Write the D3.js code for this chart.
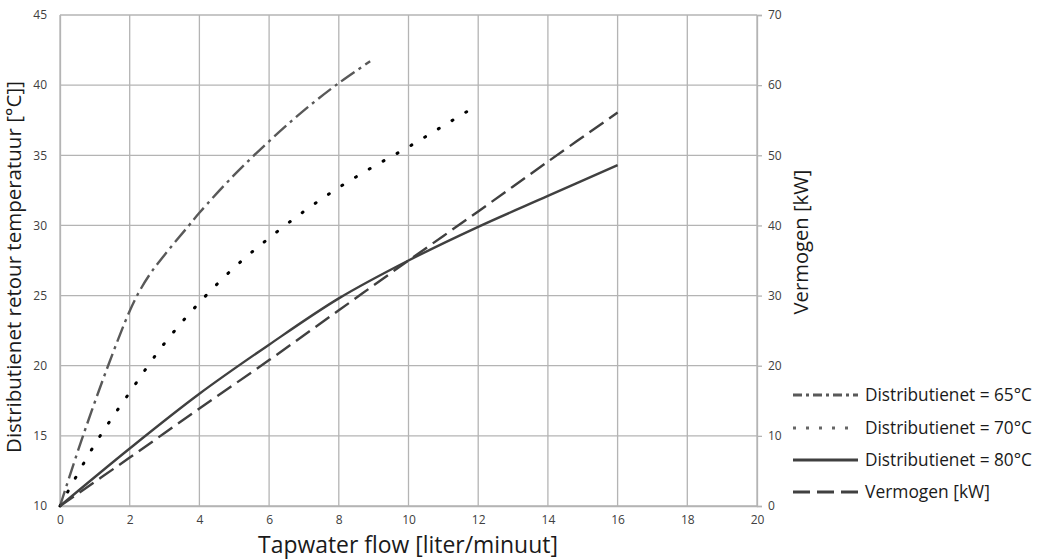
<!DOCTYPE html>
<html><head><meta charset="utf-8">
<script src="https://cdn.jsdelivr.net/npm/d3@7"></script>
<style>
body{margin:0;background:#fff;}
svg{display:block;}
</style></head>
<body><svg id="c" width="1045" height="560"></svg>
<script>
// Data
const flow65 = [0, 0.66, 1.38, 2, 2.3, 2.6, 3, 3.7, 4, 5, 6, 7, 8, 8.9];
const temp65 = [10, 15, 20, 23.9, 25.4, 26.6, 27.9, 30, 30.9, 33.6, 36.0, 38.2, 40.15, 41.7];
const flow70 = [0, 1, 2, 3, 4, 5, 6, 7, 8, 9, 10, 11, 12];
const temp70 = [10, 14.4, 18.1, 21.6, 24.5, 27, 29.1, 31, 32.7, 34.2, 35.6, 37.1, 38.6];
const flow80 = [0, 2, 4, 6, 8, 10, 12, 14, 16];
const temp80 = [10, 14.1, 18.0, 21.5, 24.8, 27.5, 29.9, 32.1, 34.3];
const flowKW = [0, 2, 4, 6, 8, 10, 12, 14, 16];
const powerKW = [0, 6.9, 13.9, 20.8, 27.9, 35.0, 42.0, 49.1, 56.1];
const xTicks = [0, 2, 4, 6, 8, 10, 12, 14, 16, 18, 20];
const yLeftTicks = [10, 15, 20, 25, 30, 35, 40, 45];
const yRightTicks = [0, 10, 20, 30, 40, 50, 60, 70];
const legendLabels = ["Distributienet = 65°C", "Distributienet = 70°C", "Distributienet = 80°C", "Vermogen [kW]"];

const svg = d3.select("#c");
const L = 60, R = 757, T = 15, B = 506;
const x = d3.scaleLinear().domain([0, 20]).range([L, R]);
const yL = d3.scaleLinear().domain([10, 45]).range([B, T]);
const yR = d3.scaleLinear().domain([0, 70]).range([B, T]);
const gridCol = "#b4b4b4";
const tickFont = "'Open Sans', 'Liberation Sans', sans-serif";
const labFont = "'Open Sans', 'Noto Sans', sans-serif";

// fit a text element to a target width by adjusting font size
function fit(sel, target) {
  const w = sel.node().getComputedTextLength();
  const fs = +sel.attr("font-size");
  sel.attr("font-size", (fs * target / w).toFixed(2));
  return sel;
}

// grid
const g = svg.append("g");
g.selectAll("line.h").data(yLeftTicks).join("line")
  .attr("x1", L).attr("x2", R).attr("y1", d => yL(d)).attr("y2", d => yL(d))
  .attr("stroke", gridCol).attr("stroke-width", 1.3);
g.selectAll("line.v").data(xTicks).join("line")
  .attr("y1", T).attr("y2", B).attr("x1", d => x(d)).attr("x2", d => x(d))
  .attr("stroke", gridCol).attr("stroke-width", 1.3);

// axes
const ax = d3.axisBottom(x).tickValues(xTicks).tickSize(0).tickPadding(9);
svg.append("g").attr("transform", `translate(0,${B})`).call(ax)
  .call(s => s.select(".domain").attr("stroke", gridCol).attr("stroke-width", 1.3))
  .call(s => s.selectAll("text").attr("font-family", tickFont).attr("font-size", 12).attr("fill", "#404040"));
const ayl = d3.axisLeft(yL).tickValues(yLeftTicks).tickSize(0).tickPadding(13);
svg.append("g").attr("transform", `translate(${L},0)`).call(ayl)
  .call(s => s.select(".domain").attr("stroke", gridCol).attr("stroke-width", 1.3))
  .call(s => s.selectAll("text").attr("font-family", tickFont).attr("font-size", 12).attr("fill", "#404040"));
const ayr = d3.axisRight(yR).tickValues(yRightTicks).tickSize(5).tickPadding(6);
svg.append("g").attr("transform", `translate(${R},0)`).call(ayr)
  .call(s => s.select(".domain").attr("stroke", gridCol).attr("stroke-width", 1.3))
  .call(s => s.selectAll("line").attr("stroke", gridCol).attr("stroke-width", 1.3))
  .call(s => s.selectAll("text").attr("font-family", tickFont).attr("font-size", 12).attr("fill", "#404040"));

// series
const curve = d3.curveCatmullRom.alpha(0.5);
const lineL = d3.line().x(d => x(d[0])).y(d => yL(d[1])).curve(curve);
const lineR = d3.line().x(d => x(d[0])).y(d => yR(d[1])).curve(curve);
const zip = (a, b) => a.map((v, i) => [v, b[i]]);
const styles = [
  {col: "#595959", w: 2.4, dash: "16,5,3,5", cap: "butt", ldash: "9,4,3,4"},
  {col: "#000000", w: 3, dash: "1,15", cap: "round", ldash: "3,10"},
  {col: "#404040", w: 2.4, dash: null, cap: "butt", ldash: null},
  {col: "#404040", w: 2.4, dash: "17,7", cap: "butt", ldash: "17,7"}
];
const paths = [
  lineL(zip(flow65, temp65)),
  lineL(zip(flow70, temp70)),
  lineL(zip(flow80, temp80)),
  lineR(zip(flowKW, powerKW))
];
paths.forEach((p, i) => {
  svg.append("path").attr("d", p).attr("fill", "none")
    .attr("stroke", styles[i].col).attr("stroke-width", styles[i].w)
    .attr("stroke-linecap", styles[i].cap)
    .attr("stroke-dasharray", styles[i].dash);
});

// legend
const legY = [395, 428, 460, 492];
const legW = [167, 167, 167, 125];
legendLabels.forEach((t, i) => {
  const st = styles[i];
  const lc = i === 1 ? "#666" : st.col;
  svg.append("line").attr("x1", 793).attr("x2", 858).attr("y1", legY[i]).attr("y2", legY[i])
    .attr("stroke", lc).attr("stroke-width", 3.2)
    .attr("stroke-dasharray", st.ldash);
  const tx = svg.append("text").attr("x", 865).attr("y", legY[i] + 5.5).text(t)
    .attr("font-family", labFont).attr("font-size", 15).attr("fill", "#1a1a1a");
  fit(tx, legW[i]);
});

// axis titles
fit(svg.append("text").attr("transform", `translate(21,267) rotate(-90)`)
  .attr("text-anchor", "middle").text("Distributienet retour temperatuur [°C]]")
  .attr("font-family", labFont).attr("font-size", 17).attr("fill", "#1a1a1a"), 372);
fit(svg.append("text").attr("transform", `translate(808,242) rotate(-90)`)
  .attr("text-anchor", "middle").text("Vermogen [kW]")
  .attr("font-family", labFont).attr("font-size", 17).attr("fill", "#1a1a1a"), 145);
fit(svg.append("text").attr("x", 408).attr("y", 553)
  .attr("text-anchor", "middle").text("Tapwater flow [liter/minuut]")
  .attr("font-family", labFont).attr("font-size", 17).attr("fill", "#1a1a1a"), 300);
</script></body></html>
